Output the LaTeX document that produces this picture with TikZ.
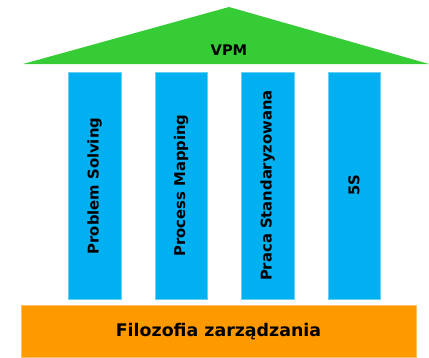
\documentclass[tikz,border=0pt]{standalone}
\usepackage{fontspec}
\setmainfont{DejaVu Sans}
\definecolor{roofgreen}{HTML}{36CC36}
\definecolor{colblue}{HTML}{00B0F0}
\definecolor{baseorange}{HTML}{FF9900}
\begin{document}
\begin{tikzpicture}[x=1pt,y=-1pt,
  pillar/.style={fill=colblue,draw=colblue!60!white,line width=0.5pt},
  pillartext/.style={rotate=90,font=\bfseries\fontsize{14.8}{17}\selectfont},
]
\useasboundingbox (0,0) rectangle (429,357);
% roof
\fill[roofgreen] (23,64) -- (229,7) -- (429,64) -- cycle;
\node[font=\bfseries\fontsize{14.6}{17}\selectfont] (vpm) at (229,50) {VPM};
% pillars
\filldraw[pillar] (68,72) rectangle (121,299);
\filldraw[pillar] (155,72) rectangle (207,299);
\filldraw[pillar] (241,72) rectangle (294,299);
\filldraw[pillar] (328,72) rectangle (380,299);
\node[pillartext] (p1) at (94.5,186) {Problem Solving};
\node[pillartext] (p2) at (181,185.5) {Process Mapping};
\node[pillartext] (p3) at (267.5,185.5) {Praca Standaryzowana};
\node[pillartext] (p4) at (354,185.5) {5S};
% base
\filldraw[fill=baseorange,draw=baseorange!60!white,line width=0.5pt] (21,305) rectangle (416,357);
\node[font=\bfseries\fontsize{17.4}{20}\selectfont] (base) at (218.5,331.5) {Filozofia zarządzania};
\end{tikzpicture}
\end{document}
